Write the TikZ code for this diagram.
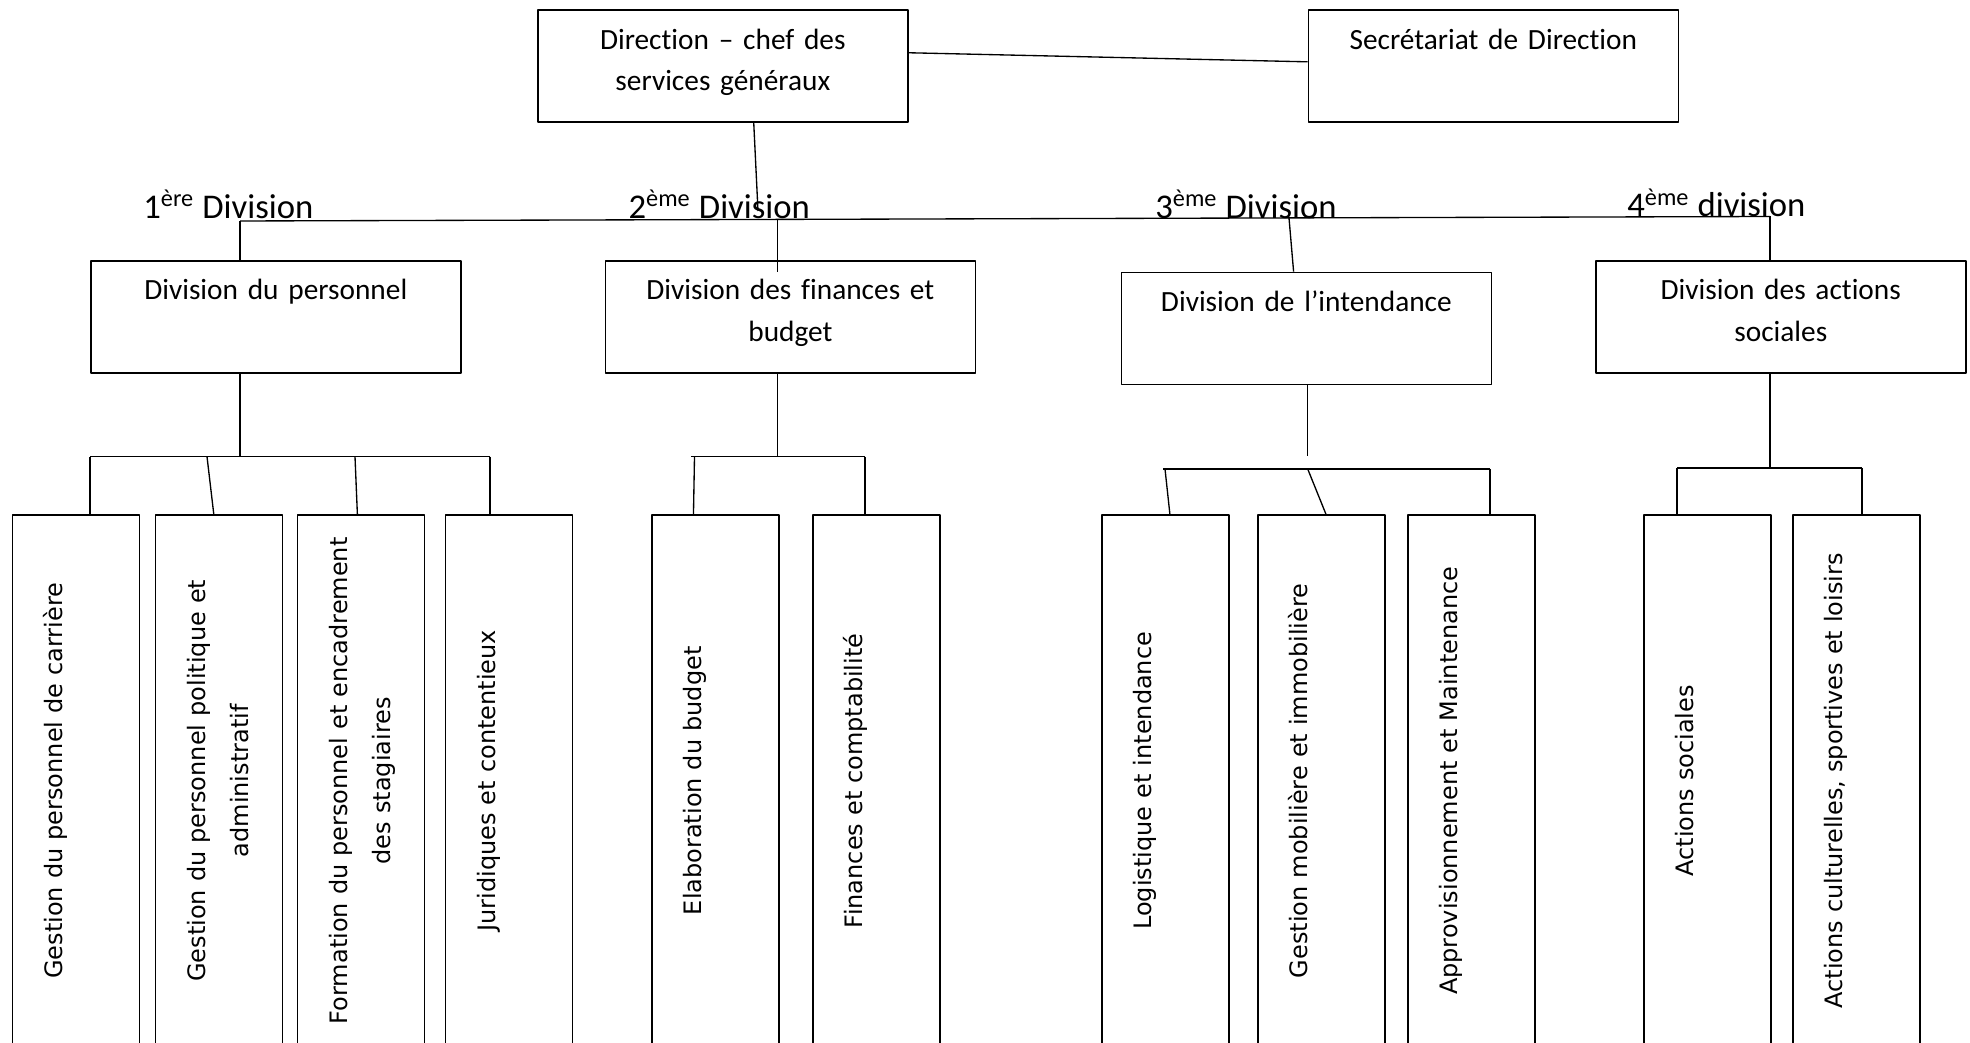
\documentclass[tikz,border=0pt]{standalone}
\usepackage{fontspec}
\setmainfont{Carlito}[Ligatures={TeX,NoCommon}]
\newfontfamily\rotfont{DejaVu Sans}[Ligatures=NoCommon]
\tikzset{
  topbox/.style={draw, line width=0.6pt, anchor=north west, inner xsep=7.2pt, inner ysep=0pt,
    text width=124.35pt, align=center, text height=14.7pt, text depth=27.3pt,
    font=\fontsize{11}{15.4}\selectfont},
  divlabel/.style={anchor=base west, inner sep=0pt, font=\fontsize{13}{15}\selectfont},
  subbox/.style={draw, line width=0.6pt, rotate=90, anchor=north east, inner xsep=7.2pt, inner ysep=0pt,
    text width=185.1pt, align=center, text height=18.75pt, text depth=28.9pt,
    font=\rotfont\fontsize{9}{16.1}\selectfont},
}
\begin{document}
\begin{tikzpicture}[x=0.375pt, y=-0.375pt, line width=0.5pt, line join=round]
\useasboundingbox (0,0) rectangle (1970,1043);
\node[topbox] (dir) at (537,9.3) {Direction – chef des\\services généraux};
\node[topbox] (sec) at (1307.5,9.3) {Secrétariat de Direction};
\draw ([yshift=5pt]dir.east) -- ([yshift=1.6pt]sec.west);
\node[divlabel] (lab1) at (142.7,218.3) {1\textsuperscript{ère} Division};
\node[divlabel] (lab2) at (628,218.3) {2\textsuperscript{ème} Division};
\node[divlabel] (lab3) at (1154.7,218.3) {3\textsuperscript{ème} Division};
\node[divlabel] (lab4) at (1626.7,217) {4\textsuperscript{ème} division};
\coordinate (busL) at (240,221);
\coordinate (busR) at (1770,216.5);
\coordinate (busdir) at (758,211);
\coordinate (busB) at (777.5,219.5);
\coordinate (busC) at (1289,218);
\draw ([xshift=11.6pt]dir.south) -- (busdir);
\draw (busL) -- (busR);
\node[topbox] (d1) at (90,260) {Division du personnel};
\node[topbox] (d2) at (604.6,260) {Division des finances et\\budget};
\node[topbox] (d3) at (1120.6,271.7) {Division de l’intendance};
\node[topbox] (d4) at (1595,260) {Division des actions\\sociales};
\draw (busL) -- (busL |- d1.north);
\draw (busB) -- ++(0,52.2);
\draw (busC) -- ([xshift=-4.8pt]d3.north);
\draw (busR) -- (busR |- d4.north);
% sous-services
\coordinate (g1L) at (90,456.6);
\coordinate (g1M) at (240,456.6);
\coordinate (g1R) at (490,456.6);
\coordinate (g2L) at (691,456.6);
\coordinate (g2M) at (777.5,456.6);
\coordinate (g2R) at (865,456.6);
\coordinate (d3end) at (1307.7,456);
\coordinate (g3L) at (1163,469);
\coordinate (g3M) at (1307.7,469);
\coordinate (g3R) at (1490,469);
\coordinate (g4L) at (1677,468);
\coordinate (g4M) at (1770,468);
\coordinate (g4R) at (1862,468);
\draw (g1M |- d1.south) -- (g1M);
\draw (g2M |- d2.south) -- (g2M);
\draw (d3end |- d3.south) -- (d3end);
\draw (g4M |- d4.south) -- (g4M);
\draw (g1L) -- (g1R);
\draw (g2L) -- (g2R);
\draw (g3L) -- (g3R);
\draw (g4L) -- (g4R);
\node[subbox] (sa) at (11.7,514) {Gestion du personnel de carrière};
\node[subbox] (sb) at (154.5,514) {Gestion du personnel politique et\\administratif};
\node[subbox] (sc) at (296.5,514) {Formation du personnel et encadrement\\des stagiaires};
\node[subbox] (sd) at (444.5,514) {Juridiques et contentieux};
\node[subbox] (se) at (651,514) {Elaboration du budget};
\node[subbox] (sf) at (812,514) {Finances et comptabilité};
\node[subbox] (sg) at (1101,514) {Logistique et intendance};
\node[subbox] (sh) at (1257,514) {Gestion mobilière et immobilière};
\node[subbox] (si) at (1407,514) {Approvisionnement et Maintenance};
\node[subbox] (sj) at (1643,514) {Actions sociales};
\node[subbox] (sk) at (1792,514) {Actions culturelles, sportives et loisirs};
\coordinate (g1b) at (207,456.6);
\coordinate (g1c) at (355,456.6);
\coordinate (g2e) at (694.5,456.6);
\coordinate (g3g) at (1165,469);
\draw (g1L) -- (g1L |- sa.east);
\draw (g1b) -- ([xshift=-1.9pt]sb.east);
\draw (g1c) -- ([xshift=-1.3pt]sc.east);
\draw (g1R) -- (g1R |- sd.east);
\draw (g2e) -- ([xshift=-8.2pt]se.east);
\draw (g2R) -- (g2R |- sf.east);
\draw (g3g) -- ([xshift=1.7pt]sg.east);
\draw (g3M) -- ([xshift=1.7pt]sh.east);
\draw (g3R) -- (g3R |- si.east);
\draw (g4L) -- (g4L |- sj.east);
\draw (g4R) -- (g4R |- sk.east);
\end{tikzpicture}
\end{document}
